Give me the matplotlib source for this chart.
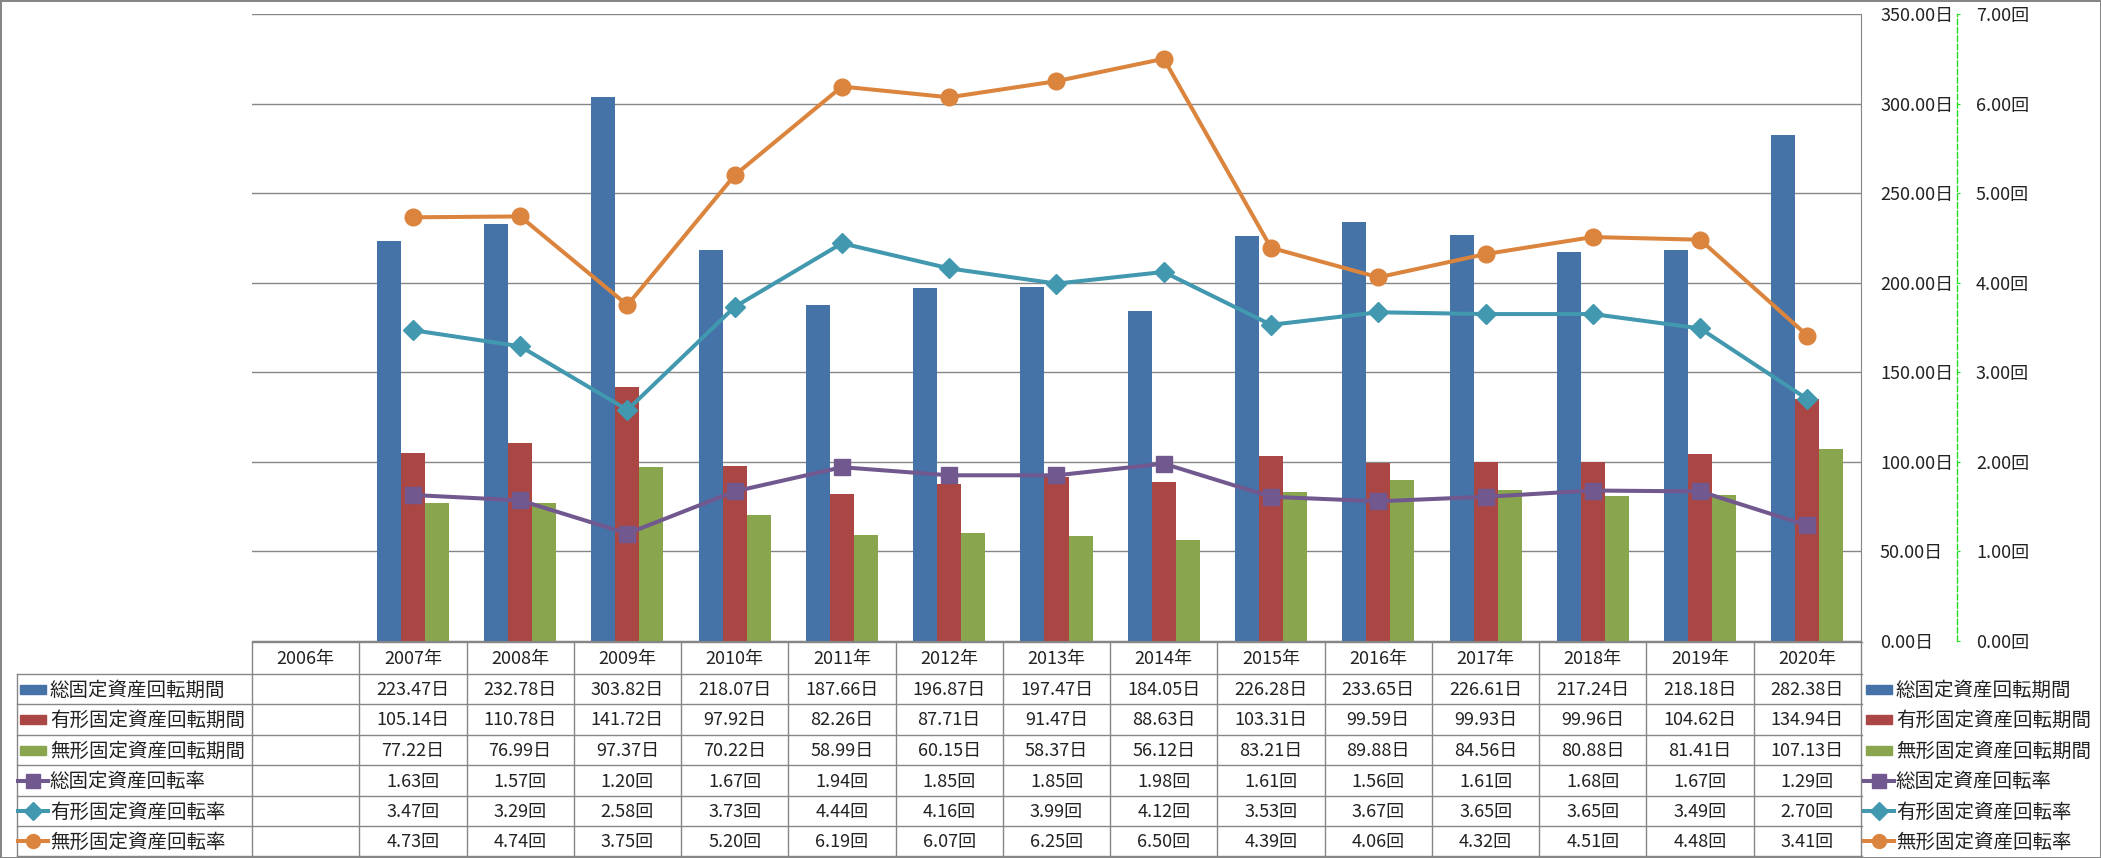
import numpy as np
import matplotlib
matplotlib.use('Agg')
import matplotlib.pyplot as plt
from matplotlib.patches import Rectangle
from matplotlib.lines import Line2D
from matplotlib.ticker import FuncFormatter

plt.rcParams['font.family'] = ['Noto Sans CJK JP', 'DejaVu Sans']

# ---------------- data ----------------
years = ['2006年', '2007年', '2008年', '2009年', '2010年', '2011年', '2012年', '2013年',
         '2014年', '2015年', '2016年', '2017年', '2018年', '2019年', '2020年']
nan = np.nan
total_period = [nan, 223.47, 232.78, 303.82, 218.07, 187.66, 196.87, 197.47, 184.05,
                226.28, 233.65, 226.61, 217.24, 218.18, 282.38]
tangible_period = [nan, 105.14, 110.78, 141.72, 97.92, 82.26, 87.71, 91.47, 88.63,
                   103.31, 99.59, 99.93, 99.96, 104.62, 134.94]
intangible_period = [nan, 77.22, 76.99, 97.37, 70.22, 58.99, 60.15, 58.37, 56.12,
                     83.21, 89.88, 84.56, 80.88, 81.41, 107.13]
total_rate = [nan, 1.63, 1.57, 1.20, 1.67, 1.94, 1.85, 1.85, 1.98,
              1.61, 1.56, 1.61, 1.68, 1.67, 1.29]
tangible_rate = [nan, 3.47, 3.29, 2.58, 3.73, 4.44, 4.16, 3.99, 4.12,
                 3.53, 3.67, 3.65, 3.65, 3.49, 2.70]
intangible_rate = [nan, 4.73, 4.74, 3.75, 5.20, 6.19, 6.07, 6.25, 6.50,
                   4.39, 4.06, 4.32, 4.51, 4.48, 3.41]

series_names = ['総固定資産回転期間', '有形固定資産回転期間', '無形固定資産回転期間',
                '総固定資産回転率', '有形固定資産回転率', '無形固定資産回転率']

# ---------------- style ----------------
c_blue, c_red, c_green = '#4572A7', '#AA4643', '#89A54E'
c_purple, c_teal, c_orange = '#71588F', '#4198AF', '#DB843D'
grid_c = '#868686'
axis_green = '#22DD22'

W, H = 2101, 858
fig = plt.figure(figsize=(W / 100, H / 100), dpi=100)
fig.patch.set_facecolor('white')
fig.patch.set_edgecolor(grid_c)
fig.patch.set_linewidth(2)


def fx(px):
    return px / W


def fy(py):
    return 1 - py / H


L, R, T, B = 252, 1861, 14, 641
ax = fig.add_axes([fx(L), fy(B), fx(R) - fx(L), fy(T) - fy(B)])
x = np.arange(len(years))
w = 0.224
ax.bar(x - w, total_period, w, color=c_blue, zorder=2)
ax.bar(x, tangible_period, w, color=c_red, zorder=2)
ax.bar(x + w, intangible_period, w, color=c_green, zorder=2)
ax.set_xlim(-0.5, len(years) - 0.5)
ax.set_ylim(0, 350)
ax.set_yticks(np.arange(0, 351, 50))
ax.yaxis.set_major_formatter(FuncFormatter(lambda v, p: f'{v:.2f}日'))
ax.grid(axis='y', color=grid_c, lw=1.0)
ax.set_axisbelow(True)
ax.set_xticks([])

ax2 = ax.twinx()
# twinx moves the host ticks to the left; put them back on the right
ax.yaxis.tick_right()
ax.tick_params(axis='y', which='both', left=False, labelleft=False, right=True,
               labelright=True, length=0, pad=13.7, labelsize=13, labelcolor='#222222')
for s in ['top', 'left']:
    ax.spines[s].set_visible(False)
ax.spines['right'].set_color(grid_c)
ax.spines['bottom'].set_color(grid_c)

line_kw = dict(lw=2.9, ms=12, solid_capstyle='round', zorder=3)
ax2.plot(x, total_rate, color=c_purple, marker='s', mec=c_purple, mfc=c_purple, **line_kw)
ax2.plot(x, tangible_rate, color=c_teal, marker='D', mec=c_teal, mfc=c_teal,
         lw=2.9, ms=10, zorder=3)
ax2.plot(x, intangible_rate, color=c_orange, marker='o', mec=c_orange, mfc=c_orange, **line_kw)
ax2.set_ylim(0, 7)
ax2.set_yticks(np.arange(0, 8, 1))
ax2.yaxis.set_major_formatter(FuncFormatter(lambda v, p: f'{v:.2f}回'))
for s in ['top', 'left', 'bottom']:
    ax2.spines[s].set_visible(False)
ax2.spines['right'].set_position(('outward', 69.1))
ax2.spines['right'].set_color(axis_green)
ax2.spines['right'].set_linestyle((0, (4, 2)))
ax2.spines['right'].set_linewidth(1.0)
ax2.tick_params(axis='y', length=2.2, color=axis_green, pad=11.5, labelsize=13,
                labelcolor='#222222')

# ---------------- data table ----------------
tab = fig.add_axes([fx(L), fy(856), fx(R) - fx(L), fy(642) - fy(856)])
tab.set_xlim(-0.5, len(years) - 0.5)
tab.set_ylim(856, 642)
tab.axis('off')
colw = (R - L) / len(years)


def px2x(px):
    return -0.5 + (px - L) / colw


row_edges = [642, 674, 704, 735, 765, 796, 826, 856]
lkw = dict(color=grid_c, lw=1.0, clip_on=False)
x_left = px2x(17)
x_right = px2x(1862)
tab.plot([-0.5, x_right], [row_edges[0]] * 2, **lkw)
for yy in row_edges[1:]:
    tab.plot([x_left, x_right], [yy, yy], **lkw)
tab.plot([x_left, x_left], [row_edges[1], row_edges[-1]], **lkw)
for k in range(len(years) + 1):
    tab.plot([k - 0.5, k - 0.5], [row_edges[0], row_edges[-1]], **lkw)

hdr_y = (row_edges[0] + row_edges[1]) / 2
for i, yl in enumerate(years):
    tab.text(i, hdr_y + 1, yl, ha='center', va='center', fontsize=13, color='#222222')

all_series = [total_period, tangible_period, intangible_period,
              total_rate, tangible_rate, intangible_rate]
units = ['日', '日', '日', '回', '回', '回']
colors = [c_blue, c_red, c_green, c_purple, c_teal, c_orange]
markers = [None, None, None, 's', 'D', 'o']
msizes = [0, 0, 0, 10, 9, 10]

for r, (vals, unit) in enumerate(zip(all_series, units)):
    yc = (row_edges[r + 1] + row_edges[r + 2]) / 2
    for i, v in enumerate(vals):
        if not np.isnan(v):
            tab.text(i, yc + 1, f'{v:.2f}{unit}', ha='center', va='center',
                     fontsize=13, color='#222222')


def draw_key(x0px, yc, r):
    xa, xb = px2x(x0px), px2x(x0px + 26)
    if markers[r] is None:
        tab.add_patch(Rectangle((xa, yc - 4.5), xb - xa, 9, color=colors[r],
                                clip_on=False))
    else:
        tab.add_line(Line2D([px2x(x0px - 2), px2x(x0px + 28)], [yc, yc], color=colors[r],
                            lw=2.9, clip_on=False))
        tab.add_line(Line2D([(xa + xb) / 2], [yc], marker=markers[r], ms=msizes[r],
                            color=colors[r], clip_on=False))


for r, name in enumerate(series_names):
    yc = (row_edges[r + 1] + row_edges[r + 2]) / 2
    # row label inside table
    draw_key(20, yc, r)
    tab.text(px2x(50), yc + 1, name, ha='left', va='center', fontsize=14, color='#222222')
    # legend on the right
    draw_key(1866, yc, r)
    tab.text(px2x(1896), yc + 1, name, ha='left', va='center', fontsize=14, color='#222222')

fig.savefig('out.png', dpi=100, facecolor='white', edgecolor=grid_c)
